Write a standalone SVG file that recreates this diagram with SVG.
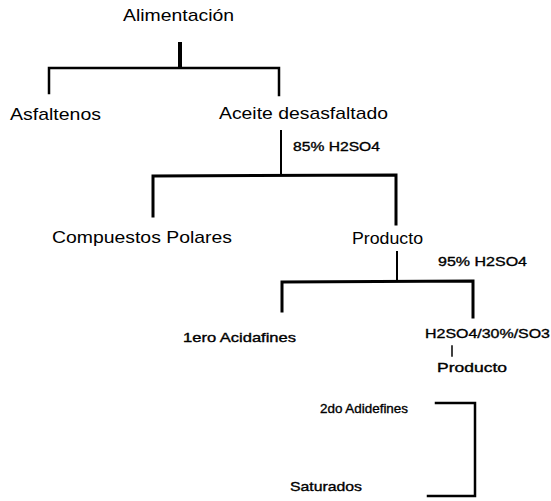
<svg xmlns="http://www.w3.org/2000/svg" width="551" height="501" viewBox="0 0 551 501">
<style>
text{font-family:"Liberation Sans",Arial,sans-serif;fill:#000}
.l{font-size:17px}
.s{font-size:13px;stroke:#000;stroke-width:0.35}
.c{fill:none;stroke:#000;stroke-linecap:square}
</style>
<rect width="551" height="501" fill="#fff"/>
<g id="connectors">
<line class="c" x1="180" y1="44" x2="180" y2="67" stroke-width="4"/>
<polyline class="c" points="49,93 49,68 279,68 279,95" stroke-width="2.5"/>
<line class="c" x1="281" y1="131" x2="281" y2="173" stroke-width="2"/>
<polyline class="c" points="153,216 153,176 396,175 396,224" stroke-width="3"/>
<line class="c" x1="397" y1="252" x2="397" y2="280" stroke-width="2"/>
<polyline class="c" points="282,311 282,282 473,281 473,317" stroke-width="3"/>
<line class="c" x1="452" y1="346" x2="452" y2="356" stroke-width="1.5"/>
<polyline class="c" points="436,403 475,403 475,496 428,496" stroke-width="2.5"/>
</g>
<g id="n-alimentacion"><text class="l" x="123" y="21" textLength="111" lengthAdjust="spacingAndGlyphs">Alimentación</text></g>
<g id="n-asfaltenos"><text class="l" x="10" y="120" textLength="91" lengthAdjust="spacingAndGlyphs">Asfaltenos</text></g>
<g id="n-aceite"><text class="l" x="219" y="119" textLength="169" lengthAdjust="spacingAndGlyphs">Aceite desasfaltado</text></g>
<g id="l-85"><text class="s" x="293" y="151" textLength="87" lengthAdjust="spacingAndGlyphs">85% H2SO4</text></g>
<g id="n-compuestos"><text class="l" x="52" y="243" textLength="180" lengthAdjust="spacingAndGlyphs">Compuestos Polares</text></g>
<g id="n-producto"><text class="l" x="352" y="244" textLength="71" lengthAdjust="spacingAndGlyphs">Producto</text></g>
<g id="l-95"><text class="s" x="438" y="266" textLength="89" lengthAdjust="spacingAndGlyphs">95% H2SO4</text></g>
<g id="n-1ero"><text class="s" x="183" y="342" textLength="113" lengthAdjust="spacingAndGlyphs">1ero Acidafines</text></g>
<g id="n-h2so4"><text class="s" x="425" y="338" textLength="125" lengthAdjust="spacingAndGlyphs">H2SO4/30%/SO3</text></g>
<g id="n-producto2"><text class="s" x="437" y="372" textLength="70" lengthAdjust="spacingAndGlyphs">Producto</text></g>
<g id="n-2do"><text class="s" x="320" y="413" textLength="88" lengthAdjust="spacingAndGlyphs">2do Adidefines</text></g>
<g id="n-saturados"><text class="s" x="290" y="491" textLength="72" lengthAdjust="spacingAndGlyphs">Saturados</text></g>
</svg>
